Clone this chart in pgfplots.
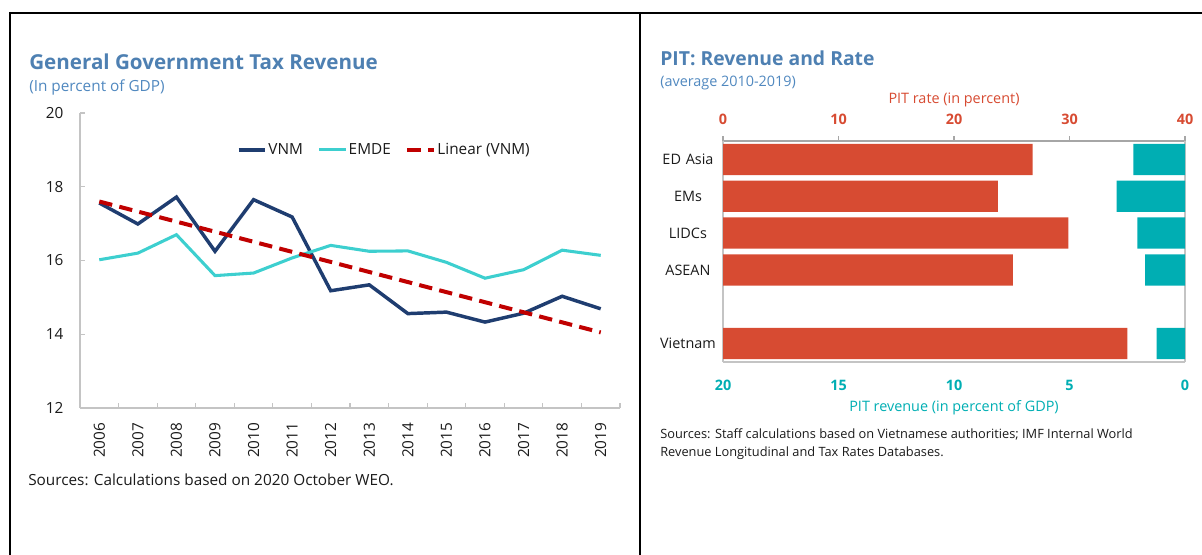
\documentclass[border=0pt]{standalone}
\usepackage{fontspec}
\setmainfont{Open Sans}
\usepackage{pgfplots}
\pgfplotsset{compat=1.18}
\definecolor{titleblue}{HTML}{4E80B2}
\definecolor{subblue}{HTML}{5088BF}
\definecolor{vnm}{HTML}{1F3D70}
\definecolor{emde}{HTML}{3DCFCF}
\definecolor{lin}{HTML}{C00000}
\definecolor{barred}{HTML}{D74B32}
\definecolor{barteal}{HTML}{00AEB3}
\definecolor{axgrey}{HTML}{C4C4C4}
\definecolor{axdark}{HTML}{A6A6A6}
\definecolor{txt}{HTML}{1A1A1A}
\newcommand\fsL{\fontsize{11.5}{13.5}\selectfont}
\newcommand\fsR{\fontsize{10.8}{13}\selectfont}
\newcommand\fsS{\fontsize{9.6}{11.5}\selectfont}
\begin{document}
\begin{tikzpicture}
\path[use as bounding box] (0,0) rectangle (901.5pt,-416.25pt);
\begin{scope}[x=0.75pt,y=-0.75pt]
\draw[black,line width=1.5pt] (9,13) -- (1202,13);
\draw[black,line width=1.5pt] (10,12) -- (10,555);
\draw[black,line width=1.5pt] (640,12) -- (640,555);
\node[anchor=west,inner sep=0pt,text=titleblue,font=\fontsize{15.45}{17}\selectfont\bfseries] at (29,61.5) {General Government Tax Revenue};
\node[anchor=west,inner sep=0pt,text=subblue,font=\fsL] at (29,87) {(In percent of GDP)};
\node[anchor=west,inner sep=0pt,text=txt,font=\fsL] at (28,480) {Sources: Calculations based on 2020 October WEO.};
\node[anchor=west,inner sep=0pt,text=titleblue,font=\fontsize{14.5}{16}\selectfont\bfseries] at (660,58.5) {PIT: Revenue and Rate};
\node[anchor=west,inner sep=0pt,text=subblue,font=\fsR] at (660,83) {(average 2010-2019)};
\node[anchor=west,inner sep=0pt,text=txt,font=\fsS] at (660,434) {Sources: Staff calculations based on Vietnamese authorities; IMF Internal World};
\node[anchor=west,inner sep=0pt,text=txt,font=\fsS] at (660,453) {Revenue Longitudinal and Tax Rates Databases.};
\end{scope}

\begin{axis}[
  at={(60pt,-306pt)}, anchor=south west,
  width=405pt, height=221.25pt, scale only axis,
  xmin=-0.5, xmax=13.5, ymin=12, ymax=20,
  ytick={12,14,16,18,20},
  xtick={0,1,2,3,4,5,6,7,8,9,10,11,12,13},
  xticklabels={2006,2007,2008,2009,2010,2011,2012,2013,2014,2015,2016,2017,2018,2019},
  minor xtick={-0.5,0.5,1.5,2.5,3.5,4.5,5.5,6.5,7.5,8.5,9.5,10.5,11.5,12.5,13.5},
  major x tick style={draw=none},
  tick align=inside,
  major tick length=3.5pt, minor tick length=3.5pt,
  axis x line*=bottom, axis y line*=left,
  axis line style={axgrey, line width=0.8pt},
  tick style={axgrey, line width=0.8pt},
  /pgf/number format/assume math mode=true,
  x tick label style={rotate=90, anchor=east, font=\fsL, text=txt},
  xticklabel shift=7.5pt,
  y tick label style={font=\fsL, text=txt},
  yticklabel shift=9pt,
  legend style={at={(0.563,0.875)}, anchor=center, draw=none, fill=none,
    legend columns=3, font=\fsL, text=txt, inner sep=0pt,
    nodes={inner xsep=1pt},
    /tikz/every even column/.append style={column sep=10pt}},
  legend image code/.code={\draw[#1] (0pt,0pt) -- (20pt,0pt);},
]
\addplot[vnm, line width=2.6pt] coordinates {
(0,17.56) (1,16.99) (2,17.72) (3,16.25) (4,17.65) (5,17.18) (6,15.18)
(7,15.34) (8,14.56) (9,14.60) (10,14.33) (11,14.57) (12,15.03) (13,14.69)};
\addlegendentry{VNM}
\addplot[emde, line width=2.3pt] coordinates {
(0,16.02) (1,16.20) (2,16.70) (3,15.59) (4,15.66) (5,16.07) (6,16.41)
(7,16.25) (8,16.26) (9,15.95) (10,15.52) (11,15.75) (12,16.28) (13,16.14)};
\addlegendentry{EMDE}
\addplot[lin, line width=3pt, dash pattern=on 10pt off 5.5pt] coordinates {
(0,17.60) (13,14.05)};
\addlegendentry{Linear (VNM)}
\end{axis}

\begin{axis}[
  at={(542.25pt,-271.5pt)}, anchor=south west,
  width=346.5pt, height=165.75pt, scale only axis,
  xmin=0, xmax=40, xtick={0,10,20,30,40},
  ymin=-0.5, ymax=5.5, y dir=reverse,
  ytick={0,1,2,3,5}, yticklabels={ED Asia,EMs,LIDCs,ASEAN,Vietnam},
  axis x line*=top, axis y line*=left,
  x axis line style={axdark, line width=0.8pt},
  y axis line style={axgrey, line width=0.8pt},
  tick align=outside, major tick length=3.75pt,
  x tick style={axdark, line width=0.8pt},
  y tick style={draw=none},
  /pgf/number format/assume math mode=true,
  xticklabel style={font=\fsR\bfseries, text=barred},
  xticklabel shift=5pt,
  yticklabel style={font=\fsR, text=txt, text width=46pt, align=center, xshift=4pt},
  xlabel={PIT rate (in percent)},
  xlabel style={at={(axis description cs:0.5,1)}, anchor=center, yshift=31pt, font=\fsR, text=barred},
  xbar, bar width=0.85,
]
\addplot[fill=barred, draw=none] coordinates {(26.8,0) (23.8,1) (29.9,2) (25.1,3) (35.0,5)};
\end{axis}

\begin{axis}[
  at={(542.25pt,-271.5pt)}, anchor=south west,
  width=346.5pt, height=165.75pt, scale only axis,
  xmin=0, xmax=20, x dir=reverse, xtick={0,5,10,15,20},
  ymin=-0.5, ymax=5.5, y dir=reverse, ytick=\empty,
  axis x line*=bottom, axis y line*=right,
  axis line style={axgrey, line width=0.8pt},
  x tick style={draw=none},
  /pgf/number format/assume math mode=true,
  xticklabel style={font=\fsR\bfseries, text=barteal},
  xticklabel shift=10pt,
  xlabel={PIT revenue (in percent of GDP)},
  xlabel style={at={(axis description cs:0.5,0)}, anchor=center, yshift=-34.5pt, font=\fsR, text=barteal},
  xbar, bar width=0.85,
]
\addplot[fill=barteal, draw=none] coordinates {(2.23,0) (2.96,1) (2.06,2) (1.73,3) (1.23,5)};
\end{axis}
\end{tikzpicture}
\end{document}
